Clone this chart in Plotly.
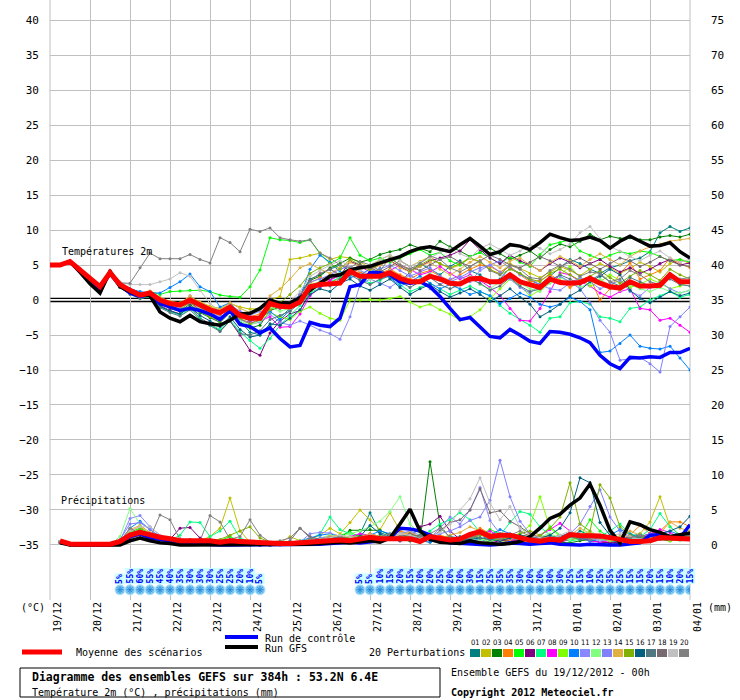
import plotly.graph_objects as go

MONO = "DejaVu Sans Mono"

# 6-hourly steps over 384h, expressed in days since 19/12 00h
hours = list(range(0, 385, 6))
days = [h / 24 for h in hours]
day_labels = ["19/12", "20/12", "21/12", "22/12", "23/12", "24/12", "25/12", "26/12",
              "27/12", "28/12", "29/12", "30/12", "31/12", "01/01", "02/01", "03/01", "04/01"]

# ---- 2m temperature (°C) ----
mean_t2m = [5.0, 5.0, 5.5, 4.3, 2.9, 1.9, 3.9, 2.2, 1.4, 0.7, 1.0,
            0.0, -0.5, -0.7, 0.0, -0.7, -1.4, -1.8, -1.0, -2.2, -2.6,
            -2.6, -0.5, -0.9, -1.0, -0.3, 1.9, 2.2, 2.3, 2.4, 4.1,
            3.4, 3.4, 3.4, 3.9, 3.1, 2.6, 2.6, 3.4, 3.0, 2.4,
            2.3, 3.0, 3.1, 2.6, 2.6, 3.6, 2.6, 2.2, 1.8, 3.0,
            2.5, 2.4, 2.5, 3.1, 2.4, 1.9, 1.7, 2.6, 2.0, 2.0, 2.1, 3.6, 2.6, 2.6]
ctrl_t2m = [5.0, 5.0, 5.5, 4.0, 2.5, 1.5, 3.8, 2.0, 1.0, 0.5, 0.8,
            -0.5, -1.0, -1.5, -1.2, -1.5, -2.0, -2.8, -1.5, -3.5, -3.8,
            -4.7, -4.0, -5.5, -6.7, -6.5, -3.2, -3.6, -3.8, -2.6, 1.9,
            2.2, 3.9, 3.9, 3.6, 2.6, 2.4, 2.6, 1.9, 0.5, -1.2,
            -2.8, -2.5, -3.8, -5.2, -5.4, -4.2, -5.0, -5.9, -6.2, -4.5,
            -4.6, -4.9, -5.4, -6.1, -7.9, -9.1, -9.8, -8.2, -8.3, -8.1, -8.2, -7.5, -7.5, -6.9]
gfs_t2m = [5.0, 5.0, 5.5, 4.0, 2.3, 1.0, 4.1, 1.9, 1.2, 0.7, 0.6,
           -1.7, -2.6, -3.1, -2.2, -3.1, -3.4, -3.6, -2.9, -2.0, -1.9,
           -1.2, 0.0, -0.5, -0.4, 0.3, 1.4, 2.4, 3.4, 3.6, 4.3,
           4.6, 4.8, 5.3, 5.8, 6.2, 6.9, 7.4, 7.6, 7.3, 6.9,
           7.9, 8.8, 7.7, 6.5, 6.9, 7.9, 7.7, 7.2, 8.2, 9.4,
           8.9, 8.5, 8.6, 9.0, 8.5, 7.4, 8.4, 9.1, 8.4, 7.7, 7.8, 8.2, 6.9, 6.0]

p01_t2m = [5.0, 5.0, 5.6, 4.2, 2.7, 1.8, 4.0, 2.0, 1.2, 0.6, 0.8,
           -0.5, -1.0, -1.4, -0.2, -1.5, -2.2, -2.8, -1.4, -3.0, -4.6,
           -5.0, -3.8, -2.5, -1.2, 0.8, 3.0, 3.6, 4.4, 5.0, 4.2,
           3.0, 3.8, 4.5, 3.2, 2.5, 4.0, 5.2, 4.4, 3.6, 4.8,
           5.6, 4.2, 3.6, 2.4, 3.0, 4.6, 3.8, 2.8, 2.2, 3.4,
           4.6, 5.8, 5.2, 4.4, 3.8, 4.6, 5.0, 5.6, 6.0, 6.9, 9.6, 10.5, 9.8, 10.3]
p02_t2m = [5.0, 5.0, 5.5, 4.5, 3.0, 2.0, 4.0, 2.3, 1.5, 0.9, 1.2,
           0.2, -0.2, -0.4, 0.4, -0.3, -0.9, -1.2, -0.5, -1.0, -1.3,
           -1.2, 0.0, 0.5, 5.8, 6.0, 6.4, 6.7, 5.8, 6.2, 6.0,
           5.4, 4.6, 5.8, 6.4, 5.6, 4.8, 5.5, 6.2, 5.2, 4.5,
           5.0, 6.0, 5.5, 4.3, 3.8, 5.2, 4.5, 3.8, 3.2, 4.0,
           4.8, 4.2, 3.5, 4.4, 5.2, 4.6, 3.8, 4.5, 5.4, 4.8, 4.0, 5.2, 5.8, 5.2]
p03_t2m = [5.0, 5.0, 5.5, 4.2, 2.8, 1.7, 3.8, 2.0, 1.1, 0.5, 0.9,
           -0.4, -1.2, -1.6, -0.6, -1.8, -2.5, -3.2, -1.8, -3.2, -4.0,
           -3.6, -1.5, -1.0, -0.8, 0.6, 2.8, 3.4, 4.6, 5.2, 6.0,
           5.4, 5.8, 6.5, 6.9, 7.2, 7.9, 7.4, 6.9, 8.4, 7.6,
           7.0, 6.2, 6.8, 7.4, 6.6, 5.8, 6.4, 7.0, 6.0, 7.2,
           8.0, 7.6, 8.4, 9.4, 8.6, 9.1, 8.8, 8.9, 8.6, 8.6, 9.0, 9.2, 9.0, 9.4]
p04_t2m = [5.0, 5.0, 5.4, 4.4, 2.8, 1.6, 3.6, 2.4, 1.0, 0.4, 1.3,
           0.2, -0.8, -0.6, 0.2, -1.0, -1.8, -2.2, -1.0, -2.0, -2.4,
           -2.0, -0.2, -1.0, -1.2, 0.2, 2.4, 3.2, 2.6, 3.0, 4.6,
           4.0, 3.4, 3.8, 4.4, 3.6, 3.0, 3.8, 4.2, 3.4, 2.8,
           3.6, 4.4, 5.0, 4.8, 4.0, 4.8, 3.6, 2.6, 2.8, 3.6,
           2.8, 1.8, 2.6, 3.2, 0.0, 1.6, 3.8, 5.3, 3.0, 3.6, 4.2, 6.0, 5.2, 4.6]
p05_t2m = [5.0, 5.0, 5.5, 4.3, 2.9, 1.9, 3.9, 2.2, 1.4, 1.0, 1.2,
           0.8, 1.2, 1.3, 1.4, 1.4, 1.2, 0.7, 0.5, 0.4, 1.9,
           4.3, 8.9, 8.6, 8.5, 8.2, 8.6, 6.6, 5.2, 6.0, 8.9,
           6.4, 5.6, 6.0, 5.4, 6.0, 6.6, 7.2, 6.4, 6.8, 5.6,
           5.0, 6.2, 6.8, 6.0, 5.2, 6.2, 5.4, 4.8, 6.5, 7.9,
           8.2, 8.6, 7.0, 6.4, 5.8, 6.4, 6.9, 6.6, 7.0, 6.8, 6.2, 5.6, 5.8, 5.4]
p06_t2m = [5.0, 5.0, 5.5, 4.3, 2.9, 1.8, 3.7, 2.0, 1.0, 0.3, 0.6,
           -0.8, -1.5, -2.0, -1.0, -2.6, -3.4, -4.4, -3.0, -5.0, -7.2,
           -7.9, -4.7, -3.0, -2.0, -1.5, 1.2, 2.6, 3.0, 3.4, 5.5,
           5.0, 4.5, 5.0, 5.6, 4.8, 4.0, 4.8, 5.6, 6.0, 6.4,
           7.0, 8.6, 7.2, 6.0, 5.2, 6.4, 5.6, 5.0, 4.2, 5.2,
           6.0, 5.4, 4.6, 5.2, 5.8, 4.8, 4.0, 4.6, 3.8, 4.4, 5.2, 5.8, 5.0, 5.3]
p07_t2m = [5.0, 5.0, 5.5, 4.1, 2.6, 1.5, 3.6, 1.8, 0.9, 0.2, 0.5,
           -1.0, -1.6, -2.2, -1.2, -2.6, -3.6, -4.2, -2.8, -4.6, -5.8,
           -6.9, -5.5, -3.6, -2.2, -0.8, 1.0, 1.8, 2.6, 3.2, 4.0,
           3.2, 2.4, 2.8, 3.6, 2.2, 1.2, 1.8, 2.4, 1.6, 0.8,
           1.4, 2.0, 1.2, 0.6, -0.8, -1.9, -2.8, -3.6, -4.6, -2.6,
           -2.4, -0.4, -0.2, -0.6, -2.4, -2.6, -3.1, -1.2, -1.0, 0.0, 0.6, 1.2, 0.4, 0.8]
p08_t2m = [5.0, 5.0, 5.5, 4.3, 2.9, 1.9, 3.8, 2.1, 1.2, 0.5, 0.8,
           -0.3, -1.0, -1.2, -0.4, -1.4, -2.0, -2.6, -1.6, -2.8, -3.2,
           -3.0, -2.4, -3.9, -3.8, -2.0, 0.6, 1.8, 2.8, 3.6, 4.4,
           4.8, 4.0, 3.6, 4.2, 5.0, 4.4, 3.6, 4.0, 4.8, 3.8,
           3.0, 3.6, 2.8, 1.8, 0.6, -1.2, -2.9, -3.0, -1.2, 1.2,
           3.9, 3.6, 2.6, 2.0, 1.0, 0.4, 1.2, 1.6, -1.2, -1.4, -2.9, -2.6, -3.6, -4.6]
p09_t2m = [5.0, 5.0, 5.5, 4.4, 3.1, 2.1, 4.0, 2.4, 1.6, 0.8, 1.1,
           0.2, -0.4, -0.6, 0.2, -0.8, -1.2, -1.6, -0.8, -2.0, -2.6,
           -3.0, -1.8, -2.4, -2.8, -1.6, -1.0, -1.9, -2.6, -2.9, 0.0,
           0.0, 0.1, 0.0, 0.2, 0.5, -0.3, -1.0, -0.6, -1.4, -2.0,
           -2.9, -2.4, -1.4, 0.2, 1.6, 3.0, 2.0, 0.6, 1.4, 2.6,
           3.6, 4.8, 3.2, 2.0, 2.6, 3.6, 2.8, 1.8, 2.2, 3.0, 2.4, 1.6, 2.0, 2.6]
p10_t2m = [5.0, 5.0, 5.5, 4.4, 3.0, 2.2, 4.2, 2.5, 1.6, 1.2, 1.0,
           1.0, 1.8, 2.6, 3.7, 1.9, 1.2, -1.0, -0.4, -2.0, -3.0,
           -2.6, -1.6, -2.8, -1.5, 0.4, 4.4, 6.4, 5.4, 4.0, 3.2,
           3.6, 4.4, 3.8, 3.2, 2.0, 2.6, 3.4, 2.4, 1.6, 2.2,
           1.6, 0.8, 1.2, 0.6, -0.5, 0.2, 1.0, 0.4, -0.6, -1.0,
           -0.6, 0.4, -0.2, -1.4, -7.5, -7.3, -6.2, -5.0, -6.6, -6.9, -7.0, -6.6, -8.3, -10.0]
p11_t2m = [5.0, 5.0, 5.5, 4.3, 2.8, 1.8, 3.8, 2.2, 1.3, 0.6, 0.9,
           -0.2, -0.7, -1.0, -0.2, -1.2, -1.8, -2.4, -1.6, -2.8, -3.4,
           -3.2, -2.0, -3.2, -3.6, -3.0, -3.6, -4.3, -4.8, -5.6, -2.4,
           2.2, 3.0, 2.4, 1.8, 2.8, 3.6, 2.6, 1.6, 2.2, 3.0,
           3.4, 2.6, 4.2, 5.0, 4.0, 3.0, 1.8, 1.0, 2.2, 1.6,
           1.4, 2.4, 3.2, 2.6, 1.6, 2.2, 2.8, 1.2, 0.6, 1.8, 2.6, 1.6, 1.0, 1.4]
p12_t2m = [5.0, 5.0, 5.5, 4.2, 2.8, 1.9, 3.9, 2.1, 1.3, 0.6, 1.0,
           -0.4, -0.8, -1.3, -0.2, -1.2, -2.0, -2.6, -1.6, -3.0, -3.6,
           -3.0, -1.0, -1.6, -1.2, 0.2, 2.2, 2.6, 3.2, 3.8, 4.6,
           3.6, 3.0, 3.4, 4.2, 3.2, 2.4, 3.0, 3.8, 2.8, 2.2,
           2.6, 3.4, 2.2, 1.6, 2.6, 3.4, 2.4, 1.6, 1.2, 2.4,
           3.2, 2.6, 1.8, 2.4, 3.0, 2.0, 1.4, 2.2, 1.6, 1.2, 1.8, 1.2, 1.0, 1.4]
p13_t2m = [5.0, 5.0, 5.6, 4.5, 3.0, 2.0, 4.1, 2.3, 1.4, 0.9, 1.1,
           0.0, -0.4, -0.8, 0.6, -0.6, -1.2, -1.6, -0.7, -1.6, -2.2,
           -1.6, 0.2, -0.6, -0.4, 0.8, 2.6, 3.0, 3.6, 4.4, 4.8,
           4.2, 3.6, 4.4, 5.0, 4.2, 3.4, 4.0, 4.6, 3.4, 2.6,
           3.2, 4.0, 4.6, 5.0, 5.6, 4.6, 3.6, 3.0, 2.2, 3.0,
           3.4, 2.6, 1.6, -0.4, -2.9, -4.6, -8.6, -8.4, -8.2, -9.1, -10.3, -3.8, -2.4, -1.0]
p14_t2m = [5.0, 5.0, 5.4, 4.3, 2.9, 2.0, 3.9, 2.3, 1.5, 0.8, 1.2,
           0.4, -0.2, -0.5, 0.6, -0.4, -1.0, -1.4, -0.4, -1.2, -1.8,
           -1.4, 0.6, 1.6, 3.0, 4.6, 5.2, 4.4, 3.8, 4.6, 5.4,
           4.8, 4.2, 5.0, 5.6, 4.6, 4.0, 4.8, 5.4, 4.4, 3.6,
           4.4, 5.4, 6.2, 5.4, 4.6, 5.6, 6.0, 5.0, 4.2, 5.4,
           6.2, 5.6, 4.8, 5.8, 6.6, 5.8, 5.0, 6.2, 7.0, 7.6, 8.0, 8.4, 8.6, 8.8]
p15_t2m = [5.0, 5.0, 5.5, 4.4, 2.9, 1.7, 3.8, 2.1, 1.2, 0.6, 0.9,
           -0.2, -0.9, -1.4, -0.3, -1.6, -2.4, -3.0, -1.6, -2.6, -3.4,
           -2.8, -1.4, -0.4, 0.8, 2.0, 3.8, 4.6, 5.2, 4.4, 5.8,
           5.0, 4.4, 5.2, 6.0, 5.0, 4.2, 5.0, 5.8, 5.2, 4.6,
           5.2, 6.0, 5.4, 4.4, 3.6, 4.4, 3.8, 3.0, 2.6, 3.8,
           4.4, 3.6, 2.8, 3.4, 4.2, 3.2, 2.4, 3.4, 4.2, 3.6, 2.8, 4.4, 3.6, 3.0]
p16_t2m = [5.0, 5.0, 5.5, 4.2, 2.7, 1.6, 3.7, 1.9, 1.0, 0.3, 0.7,
           -0.9, -1.6, -2.0, -1.0, -2.2, -3.0, -3.8, -2.4, -4.2, -5.3,
           -5.0, -3.4, -3.6, -2.6, -1.4, 0.8, 1.6, 1.2, 2.4, 3.0,
           2.0, 1.4, 2.2, 3.0, 1.8, 0.8, 1.6, 2.2, 1.2, 0.4,
           1.0, 1.6, 0.8, -0.2, 0.6, 1.6, 0.4, -0.6, -2.4, -1.6,
           -0.6, 0.6, 1.4, 2.6, 3.4, 4.4, 3.6, 1.4, 0.2, -0.4, 0.4, 1.2, 0.6, 1.0]
p17_t2m = [5.0, 5.0, 5.5, 4.1, 2.6, 1.4, 3.9, 1.8, 0.8, 0.2, 0.6,
           -1.1, -1.8, -2.3, -1.4, -2.8, -3.6, -4.5, -3.0, -4.8, -5.0,
           -4.4, -2.8, -2.2, -1.6, -0.4, 1.6, 2.4, 2.0, 3.0, 3.6,
           2.8, 2.2, 3.0, 3.4, 2.6, 1.8, 2.6, 3.2, 2.2, 1.6,
           2.2, 3.0, 2.4, 1.4, 2.0, 3.2, 2.0, 1.2, 1.6, 2.8,
           3.6, 3.0, 2.2, 2.8, 3.6, 2.6, 2.0, 3.2, 2.6, 2.0, 2.4, 3.0, 2.2, 2.0]
p18_t2m = [5.0, 5.0, 5.5, 4.3, 2.9, 1.8, 3.9, 2.2, 1.4, 0.7, 1.0,
           0.0, -0.6, -0.8, 0.0, -0.8, -1.6, -2.0, -1.2, -2.4, -3.0,
           -2.6, -0.8, -1.2, -0.6, 0.6, 2.8, 3.8, 4.4, 3.6, 4.2,
           5.0, 4.6, 4.0, 4.8, 5.6, 4.8, 4.2, 5.0, 5.8, 6.2,
           5.4, 4.8, 5.6, 6.4, 5.8, 5.0, 4.6, 5.4, 6.2, 5.6,
           4.8, 5.4, 6.0, 5.2, 4.4, 5.2, 6.0, 5.6, 4.8, 5.4, 6.2, 5.6, 5.0, 4.8]
p19_t2m = [5.0, 5.0, 5.5, 4.4, 3.1, 2.3, 4.3, 2.6, 2.2, 2.2, 2.2,
           2.6, 3.0, 3.9, 3.4, 1.4, -0.5, -1.6, -0.8, -2.0, -2.6,
           -2.2, -0.4, -0.8, -0.2, 1.2, 3.4, 4.2, 5.0, 5.6, 4.8,
           4.2, 5.0, 5.8, 6.4, 5.6, 4.8, 5.4, 6.0, 6.8, 7.4,
           6.6, 6.0, 7.4, 8.0, 7.2, 6.4, 7.0, 7.9, 7.4, 6.6,
           7.2, 8.0, 9.6, 10.5, 8.8, 7.6, 7.0, 6.2, 5.6, 6.4, 7.0, 6.0, 5.4, 5.8]
p20_t2m = [5.0, 5.0, 5.5, 4.4, 3.0, 2.2, 4.2, 2.4, 2.4, 4.6, 6.7,
           5.9, 5.9, 5.9, 6.5, 5.8, 5.3, 8.9, 8.2, 6.9, 10.1,
           9.8, 10.3, 8.9, 8.6, 8.4, 8.6, 6.7, 6.0, 5.0, 4.6,
           5.5, 5.0, 4.2, 6.0, 5.0, 4.4, 5.2, 6.3, 5.8, 4.6,
           4.0, 4.8, 5.6, 4.2, 3.6, 5.0, 4.4, 3.2, 3.0, 4.2,
           5.0, 4.4, 3.4, 4.0, 3.8, 2.6, 3.0, 4.2, 3.6, 2.6, 2.2, 3.8, 3.0, 3.2]

# ---- 6h precipitation (mm), from +6h to +384h ----
mean_rr = [0.6, 0.15, 0.1, 0.1, 0.1, 0.1, 0.5, 1.4,
           1.8, 1.4, 1.1, 0.9, 0.6, 0.6, 0.6, 0.6,
           0.4, 0.6, 0.5, 0.4, 0.25, 0.15, 0.2, 0.2,
           0.3, 0.35, 0.5, 0.7, 0.7, 0.6, 0.85, 1.1,
           0.9, 0.85, 0.85, 0.9, 0.5, 1.2, 0.95, 0.7,
           0.85, 1.5, 1.9, 1.2, 1.4, 1.4, 1.05, 0.7,
           0.55, 0.8, 0.7, 1.5, 1.35, 1.3, 1.3, 1.05,
           0.7, 0.5, 0.5, 0.6, 1.05, 0.95, 0.8, 0.85]
ctrl_rr = [0.4, 0.1, 0.0, 0.0, 0.0, 0.0, 0.3, 1.2,
           1.6, 1.0, 0.8, 0.5, 0.3, 0.2, 0.1, 0.1,
           0.0, 0.0, 0.0, 0.0, 0.0, 0.0, 0.0, 0.0,
           0.0, 0.0, 0.1, 0.2, 0.3, 0.4, 0.3, 0.4,
           0.6, 1.0, 2.4, 2.3, 2.0, 1.4, 0.6, 0.3,
           0.2, 0.1, 0.0, 0.0, 0.1, 0.3, 0.2, 0.1,
           0.2, 0.3, 0.1, 0.0, 0.0, 0.1, 0.0, 0.0,
           0.0, 0.1, 0.3, 1.4, 1.5, 1.2, 1.0, 2.9]
gfs_rr = [0.3, 0.0, 0.0, 0.0, 0.0, 0.0, 0.0, 0.6,
          1.0, 0.6, 0.3, 0.2, 0.0, 0.0, 0.0, 0.0,
          0.0, 0.0, 0.0, 0.0, 0.0, 0.0, 0.0, 0.0,
          0.0, 0.1, 0.2, 0.3, 0.4, 0.3, 0.5, 0.6,
          0.4, 1.0, 3.0, 5.1, 2.0, 0.8, 0.4, 0.3,
          0.2, 0.6, 0.3, 0.2, 0.1, 0.2, 0.5, 1.2,
          2.4, 3.8, 4.4, 5.7, 6.7, 8.7, 5.7, 2.1,
          0.3, 3.3, 2.9, 2.2, 1.8, 1.2, 1.4, 1.7]

p01_rr = [0.5, 0.1, 0.0, 0.0, 0.0, 0.0, 0.4, 1.6, 2.2, 1.4, 1.0, 0.6, 0.4, 0.8, 0.5, 0.3,
          0.2, 0.5, 0.3, 0.2, 0.1, 0.0, 0.1, 0.2, 0.3, 0.4, 0.6, 1.0, 1.2, 0.8, 1.6, 4.6,
          1.8, 1.2, 0.6, 0.8, 1.4, 0.6, 0.4, 0.8, 1.2, 0.6, 0.4, 1.0, 1.6, 1.0, 0.6, 0.4,
          0.8, 1.4, 0.6, 1.0, 2.0, 1.4, 0.8, 0.6, 0.4, 1.2, 1.6, 0.8, 1.2, 0.8, 1.0, 1.4]
p02_rr = [0.4, 0.1, 0.0, 0.0, 0.0, 0.0, 0.2, 1.2, 1.8, 1.2, 0.8, 0.4, 0.2, 0.4, 0.6, 1.2,
          2.4, 6.7, 2.0, 0.4, 0.2, 0.1, 0.3, 1.2, 0.6, 0.8, 1.4, 2.4, 1.6, 3.2, 5.0, 3.6,
          2.2, 4.6, 2.0, 1.0, 0.6, 0.4, 0.8, 1.2, 0.6, 0.4, 0.8, 1.2, 0.6, 0.4, 0.2, 0.6,
          0.8, 0.4, 0.6, 1.0, 0.8, 0.6, 0.4, 0.8, 1.2, 0.8, 1.6, 3.3, 6.9, 2.6, 1.4, 1.0]
p03_rr = [0.5, 0.0, 0.0, 0.0, 0.0, 0.0, 0.3, 1.0, 1.4, 1.0, 0.6, 0.4, 0.2, 0.3, 0.2, 0.1,
          0.1, 0.2, 0.1, 0.0, 0.0, 0.0, 0.1, 0.3, 0.4, 0.6, 0.4, 0.8, 1.0, 2.1, 2.1, 2.2,
          2.1, 1.4, 0.8, 0.6, 0.5, 11.9, 2.8, 1.0, 0.6, 0.4, 0.3, 0.5, 0.8, 0.6, 0.3, 0.2,
          0.4, 0.6, 0.4, 0.3, 0.6, 0.8, 0.4, 0.3, 0.2, 0.4, 0.6, 1.2, 0.8, 0.6, 1.0, 0.8]
p04_rr = [0.4, 0.1, 0.0, 0.0, 0.0, 0.0, 0.6, 2.0, 2.6, 1.6, 1.0, 0.6, 0.4, 0.6, 0.4, 0.2,
          0.4, 0.6, 0.3, 0.1, 0.0, 0.0, 0.2, 0.4, 0.6, 0.5, 0.8, 1.2, 0.8, 1.0, 1.4, 1.2,
          0.8, 1.2, 2.0, 1.6, 1.0, 0.8, 1.4, 1.0, 0.6, 1.2, 2.4, 1.6, 0.8, 0.6, 0.4, 0.6,
          1.0, 1.4, 0.8, 0.6, 1.2, 1.8, 1.0, 0.6, 0.8, 1.4, 2.8, 1.6, 2.0, 3.3, 3.3, 2.6]
p05_rr = [0.5, 0.0, 0.0, 0.0, 0.0, 0.0, 0.4, 1.8, 2.4, 1.6, 0.8, 0.5, 0.3, 0.6, 0.4, 0.3,
          0.6, 1.2, 0.5, 0.2, 0.1, 0.0, 0.2, 0.3, 0.5, 0.8, 0.6, 1.0, 1.4, 1.8, 1.2, 1.0,
          0.6, 0.8, 1.2, 1.6, 2.2, 1.4, 0.8, 0.6, 0.6, 0.8, 1.4, 2.2, 1.6, 1.0, 0.6, 0.8,
          1.2, 2.6, 1.4, 0.8, 1.2, 3.6, 2.0, 1.0, 0.6, 0.8, 1.2, 0.8, 1.0, 0.6, 0.8, 1.2]
p06_rr = [0.4, 0.1, 0.0, 0.0, 0.0, 0.0, 0.3, 1.2, 1.6, 1.2, 0.6, 0.8, 2.4, 2.5, 1.0, 0.4,
          0.2, 0.3, 0.2, 0.1, 0.0, 0.0, 0.1, 0.2, 0.4, 0.3, 0.6, 0.8, 1.0, 0.6, 1.2, 1.6,
          1.2, 0.8, 0.6, 1.0, 2.6, 3.0, 4.1, 2.0, 0.8, 0.6, 0.4, 0.3, 0.6, 0.8, 0.4, 0.2,
          0.3, 0.6, 0.4, 0.8, 1.2, 0.6, 0.4, 0.3, 0.4, 0.8, 1.2, 1.6, 1.0, 0.8, 1.4, 1.6]
p07_rr = [0.4, 0.1, 0.0, 0.0, 0.0, 0.0, 0.4, 1.4, 1.8, 1.2, 0.8, 0.6, 1.4, 3.3, 3.2, 1.2,
          2.0, 3.4, 1.0, 0.4, 0.2, 0.0, 0.1, 0.3, 0.4, 0.8, 1.6, 4.0, 2.2, 1.6, 1.0, 0.8,
          0.6, 0.8, 1.0, 1.4, 1.2, 2.0, 3.0, 3.6, 4.6, 3.6, 1.8, 1.2, 1.4, 3.2, 4.8, 4.4,
          2.6, 1.4, 1.0, 0.6, 0.8, 1.4, 1.2, 2.0, 3.0, 1.6, 1.2, 2.2, 4.5, 2.6, 1.4, 1.0]
p08_rr = [0.4, 0.1, 0.0, 0.0, 0.0, 0.0, 0.3, 1.0, 1.4, 1.0, 0.6, 0.4, 0.3, 0.5, 0.4, 0.3,
          0.2, 0.4, 0.2, 0.1, 0.0, 0.0, 0.0, 0.1, 0.2, 0.3, 0.4, 0.6, 0.8, 1.2, 1.6, 1.4,
          1.0, 0.8, 0.6, 1.2, 1.0, 0.8, 0.6, 0.4, 0.6, 1.0, 1.4, 2.0, 1.2, 0.8, 0.6, 1.0,
          1.4, 2.2, 3.1, 2.0, 1.0, 0.6, 0.4, 0.6, 0.8, 1.2, 0.8, 1.6, 2.2, 1.8, 1.0, 0.8]
p09_rr = [0.5, 0.1, 0.0, 0.0, 0.0, 0.0, 0.4, 1.4, 2.0, 1.4, 0.8, 0.6, 0.4, 0.5, 0.3, 0.2,
          0.3, 0.6, 0.4, 0.2, 0.1, 0.0, 0.1, 0.2, 0.3, 0.5, 0.8, 1.0, 1.2, 0.8, 0.6, 1.0,
          1.4, 1.0, 0.8, 0.6, 1.2, 1.6, 1.0, 0.8, 0.6, 0.8, 1.0, 0.6, 0.8, 1.2, 1.6, 2.8,
          6.9, 2.4, 1.2, 0.8, 1.0, 1.4, 0.8, 0.6, 0.8, 1.0, 0.6, 0.8, 1.2, 0.6, 0.8, 1.0]
p10_rr = [0.5, 0.1, 0.0, 0.0, 0.0, 0.0, 0.5, 2.4, 3.4, 2.2, 1.2, 0.8, 0.6, 0.4, 0.6, 0.8,
          0.4, 0.2, 0.3, 0.1, 0.0, 0.0, 0.1, 0.2, 0.6, 1.0, 1.4, 1.6, 1.2, 0.8, 0.6, 1.4,
          2.0, 1.6, 1.0, 0.8, 0.6, 0.4, 0.8, 1.2, 1.0, 0.6, 0.8, 1.4, 2.2, 1.6, 0.8, 0.6,
          0.4, 0.6, 1.2, 1.8, 1.0, 0.6, 0.8, 1.4, 2.2, 1.6, 1.0, 1.2, 1.6, 2.0, 1.4, 1.2]
p11_rr = [0.4, 0.1, 0.0, 0.0, 0.0, 0.0, 0.6, 3.8, 4.2, 2.6, 1.4, 0.8, 0.6, 0.4, 0.3, 0.2,
          0.2, 0.3, 0.2, 0.1, 0.0, 0.0, 0.1, 0.2, 0.4, 1.6, 1.8, 1.7, 1.2, 0.8, 0.6, 0.8,
          1.0, 1.2, 1.6, 2.0, 1.4, 1.0, 2.4, 4.0, 3.0, 5.0, 8.2, 3.5, 1.6, 1.0, 0.8, 0.6,
          0.8, 1.2, 0.6, 0.8, 1.4, 1.0, 0.6, 0.8, 1.2, 0.8, 1.0, 1.6, 1.2, 0.8, 1.0, 1.2]
p12_rr = [0.5, 0.1, 0.0, 0.0, 0.0, 0.0, 1.2, 5.2, 3.0, 1.4, 0.8, 0.6, 0.4, 0.6, 0.4, 0.3,
          0.4, 0.6, 0.3, 0.1, 0.0, 0.0, 0.2, 0.4, 0.6, 0.8, 1.0, 1.4, 1.2, 1.6, 2.0, 2.6,
          3.4, 4.8, 6.9, 3.0, 1.6, 1.0, 0.8, 0.6, 0.8, 1.2, 0.8, 0.6, 1.0, 1.4, 1.0, 0.8,
          1.2, 1.6, 1.0, 0.8, 1.4, 2.0, 1.2, 0.8, 0.6, 0.8, 1.0, 1.4, 1.0, 0.8, 0.6, 1.0]
p13_rr = [0.4, 0.1, 0.0, 0.0, 0.0, 0.0, 0.8, 3.0, 3.2, 2.2, 1.2, 0.6, 0.4, 0.3, 0.4, 0.3,
          0.2, 0.4, 0.2, 0.1, 0.0, 0.0, 0.1, 0.3, 0.5, 0.8, 1.0, 1.2, 1.0, 0.8, 1.0, 1.2,
          0.8, 1.0, 1.4, 1.2, 0.8, 1.0, 1.6, 2.0, 2.6, 3.5, 4.0, 6.4, 12.1, 6.9, 3.4, 1.6,
          1.0, 0.8, 1.2, 1.6, 3.0, 5.5, 7.9, 4.0, 2.0, 1.2, 0.8, 1.0, 1.4, 1.0, 0.8, 1.2]
p14_rr = [0.4, 0.1, 0.0, 0.0, 0.0, 0.0, 0.5, 2.2, 2.8, 1.8, 1.0, 0.6, 0.4, 0.4, 0.3, 0.3,
          0.4, 0.6, 0.4, 0.2, 0.1, 0.0, 0.1, 0.3, 0.4, 0.6, 0.8, 1.2, 1.4, 1.0, 1.2, 1.6,
          1.2, 1.0, 1.4, 1.8, 1.2, 0.8, 1.0, 1.4, 1.8, 2.6, 2.0, 1.4, 1.0, 0.8, 1.2, 1.6,
          1.2, 1.0, 0.8, 1.4, 2.4, 1.6, 1.0, 0.8, 1.2, 2.0, 1.4, 1.0, 1.6, 3.3, 2.4, 2.0]
p15_rr = [0.4, 0.1, 0.0, 0.0, 0.0, 0.0, 0.4, 1.6, 2.2, 1.4, 0.8, 0.6, 0.4, 0.5, 0.4, 0.6,
          0.8, 1.4, 2.0, 2.6, 1.0, 0.4, 0.2, 0.3, 0.4, 0.6, 0.8, 1.0, 0.8, 1.2, 1.0, 0.8,
          0.6, 0.8, 1.0, 1.4, 1.2, 0.8, 1.0, 1.2, 0.8, 1.0, 1.4, 1.0, 0.8, 1.2, 1.6, 2.0,
          1.4, 2.4, 4.0, 8.9, 3.0, 2.0, 8.6, 6.7, 2.6, 1.4, 1.0, 1.2, 0.8, 1.0, 1.4, 1.2]
p16_rr = [0.5, 0.1, 0.0, 0.0, 0.0, 0.0, 0.3, 1.2, 1.6, 1.2, 0.8, 0.4, 0.3, 0.4, 0.3, 0.2,
          0.2, 0.4, 0.3, 0.1, 0.0, 0.0, 0.1, 0.2, 0.3, 0.4, 0.6, 0.8, 1.0, 0.8, 1.2, 2.8,
          1.6, 1.0, 0.8, 0.6, 1.0, 1.4, 1.0, 0.8, 0.6, 0.8, 1.0, 0.8, 0.6, 1.0, 1.4, 1.2,
          1.0, 1.4, 2.4, 4.6, 9.6, 8.9, 3.2, 1.4, 0.8, 1.0, 1.4, 1.0, 1.6, 2.0, 2.6, 4.1]
p17_rr = [0.4, 0.1, 0.0, 0.0, 0.0, 0.0, 0.4, 1.4, 1.8, 1.2, 0.6, 0.4, 0.3, 0.4, 0.3, 0.2,
          0.2, 0.3, 0.2, 0.1, 0.0, 0.0, 0.1, 0.2, 0.3, 0.5, 0.8, 1.0, 1.2, 0.8, 0.6, 1.0,
          1.2, 0.8, 0.6, 1.0, 1.4, 1.0, 0.8, 0.6, 0.8, 1.2, 1.0, 0.8, 1.4, 1.2, 0.8, 0.6,
          0.8, 1.0, 1.4, 1.2, 0.8, 1.0, 1.4, 1.0, 0.8, 1.2, 1.0, 0.8, 1.2, 1.0, 1.4, 1.6]
p18_rr = [0.4, 0.1, 0.0, 0.0, 0.0, 0.0, 0.3, 1.0, 1.4, 1.0, 0.6, 0.4, 0.3, 0.4, 0.3, 0.2,
          0.2, 0.4, 0.3, 0.1, 0.0, 0.0, 0.2, 0.6, 2.4, 1.2, 0.8, 1.0, 0.8, 0.6, 1.0, 1.2,
          0.8, 1.0, 1.2, 1.6, 1.2, 1.0, 2.0, 3.2, 3.6, 5.0, 8.0, 4.6, 4.9, 3.4, 2.6, 1.6,
          1.0, 0.8, 1.0, 1.4, 1.0, 0.8, 1.2, 1.0, 0.8, 1.0, 1.4, 1.0, 0.8, 1.2, 1.0, 1.4]
p19_rr = [0.5, 0.1, 0.0, 0.0, 0.0, 0.0, 0.6, 2.0, 2.6, 2.6, 1.4, 0.8, 1.0, 0.6, 0.4, 0.3,
          0.3, 0.4, 0.2, 0.1, 0.0, 0.0, 0.1, 0.3, 0.4, 0.6, 0.8, 1.0, 1.4, 1.2, 1.0, 1.4,
          1.0, 1.2, 1.6, 1.4, 1.0, 1.2, 1.8, 3.0, 5.0, 6.6, 9.6, 6.0, 3.6, 5.5, 2.4, 1.4,
          1.0, 0.8, 1.4, 2.0, 1.4, 1.0, 0.8, 1.2, 1.6, 1.2, 0.8, 1.0, 1.4, 1.2, 1.0, 0.8]
p20_rr = [0.4, 0.1, 0.0, 0.0, 0.0, 0.0, 0.5, 2.4, 1.6, 1.0, 4.3, 3.6, 0.8, 0.4, 0.6, 4.2,
          3.3, 0.8, 1.2, 3.6, 1.4, 0.4, 0.6, 1.0, 2.4, 1.0, 0.6, 0.8, 1.0, 0.8, 0.6, 1.0,
          1.2, 1.6, 1.0, 0.8, 1.2, 1.6, 2.4, 1.2, 0.8, 1.0, 1.6, 1.2, 0.8, 1.4, 2.0, 1.2,
          0.8, 0.6, 1.0, 1.4, 1.2, 0.8, 1.0, 1.2, 0.8, 1.0, 1.4, 1.2, 0.8, 1.0, 1.2, 1.0]

# ---- snow probability (%) ----
snow_hours_a = list(range(42, 127, 6))
snow_pct_a = [5, 55, 60, 55, 45, 40, 35, 30, 30, 30, 25, 25, 20, 10, 5]
snow_hours_b = list(range(186, 385, 6))
snow_pct_b = [5, 5, 10, 15, 20, 15, 20, 20, 25, 20, 20, 30, 15, 25, 35, 35, 30, 20, 20,
              30, 30, 25, 15, 10, 25, 35, 25, 15, 15, 20, 15, 10, 20, 15]

pert_colors = ["#008080", "#c0c000", "#008000", "#ff8000", "#00ff00", "#800080", "#00ff80",
               "#ff00ff", "#80ff00", "#0080ff", "#8888ff", "#80ff80", "#8080ff", "#e0b040",
               "#80b000", "#006080", "#507880", "#786870", "#c0c0c0", "#808080"]

pert_t2m = [p01_t2m, p02_t2m, p03_t2m, p04_t2m, p05_t2m, p06_t2m, p07_t2m, p08_t2m, p09_t2m, p10_t2m,
            p11_t2m, p12_t2m, p13_t2m, p14_t2m, p15_t2m, p16_t2m, p17_t2m, p18_t2m, p19_t2m, p20_t2m]
pert_rr = [p01_rr, p02_rr, p03_rr, p04_rr, p05_rr, p06_rr, p07_rr, p08_rr, p09_rr, p10_rr,
           p11_rr, p12_rr, p13_rr, p14_rr, p15_rr, p16_rr, p17_rr, p18_rr, p19_rr, p20_rr]


def px_x(px):
    return (px - 50) / 640


def px_y(py):
    return (600 - py) / 600


def label(px, py, text, size=10, xanchor="left"):
    # free text placed in page pixels
    return dict(x=px_x(px), y=px_y(py), xref="paper", yref="paper", text=text,
                showarrow=False, xanchor=xanchor, yanchor="middle",
                font=dict(family=MONO, size=size))


fig = go.Figure()

for t2m, rr, col in zip(pert_t2m, pert_rr, pert_colors):
    fig.add_trace(go.Scatter(x=days, y=t2m, mode="lines+markers",
                             line=dict(color=col, width=1), marker=dict(size=3, color=col)))
    fig.add_trace(go.Scatter(x=days[1:], y=rr, yaxis="y2", mode="lines+markers",
                             line=dict(color=col, width=1), marker=dict(size=3, color=col)))

for t2m, rr, col, w in [(ctrl_t2m, ctrl_rr, "#0000ff", 3.5), (gfs_t2m, gfs_rr, "#000000", 3.5),
                        (mean_t2m, mean_rr, "#ff0000", 5)]:
    fig.add_trace(go.Scatter(x=days, y=t2m, mode="lines", line=dict(color=col, width=w)))
    fig.add_trace(go.Scatter(x=days[1:], y=rr, yaxis="y2", mode="lines", line=dict(color=col, width=w)))

# snow band: flakes row
snow_days = [h / 24 for h in snow_hours_a + snow_hours_b]
fig.add_trace(go.Scatter(x=snow_days, y=[-41.4] * len(snow_days), mode="markers",
                         marker=dict(symbol="circle", size=10, color="#7cc8f0",
                                     line=dict(color="#a8e0ff", width=1))))
fig.add_trace(go.Scatter(x=snow_days, y=[-41.4] * len(snow_days), mode="markers",
                         marker=dict(symbol="asterisk-open", size=6, color="#2a88d8",
                                     line=dict(color="#2a88d8", width=1))))

annotations = []
for h, p in zip(snow_hours_a + snow_hours_b, snow_pct_a + snow_pct_b):
    annotations.append(dict(x=h / 24, y=-40.7, xref="x", yref="y", text=f"<b>{p}%</b>",
                            textangle=-90, showarrow=False, yanchor="bottom",
                            bgcolor="#ccffff", borderpad=0,
                            font=dict(family=MONO, size=8, color="#0000ff")))

# date labels, one per day gridline (paper coords so the last one is not clipped)
for i, lab in enumerate(day_labels):
    annotations.append(dict(x=px_x(50 + 40 * i + 7), y=px_y(601), xref="paper", yref="paper",
                            text=lab, textangle=-90, showarrow=False,
                            xanchor="center", yanchor="top",
                            borderpad=0, font=dict(family=MONO, size=10)))

annotations += [
    dict(x=px_x(60), y=6.9, xref="paper", yref="y", text="Températures 2m", showarrow=False,
         xanchor="left", yanchor="middle", font=dict(family=MONO, size=10)),
    dict(x=px_x(59), y=-28.7, xref="paper", yref="y", text="Précipitations", showarrow=False,
         xanchor="left", yanchor="middle", font=dict(family=MONO, size=10)),
    label(33, 607, "(°C)", xanchor="center"),
    label(720, 607, "(mm)", xanchor="center"),
    label(74, 652, "Moyenne des scénarios"),
    label(263, 638, "Run de contrôle"),
    label(263, 648, "Run GFS"),
    label(467, 652, "20 Perturbations", xanchor="right"),
    label(30, 677, "<b>Diagramme des ensembles GEFS sur 384h : 53.2N 6.4E</b>", size=11.5),
    label(30, 692, "Température 2m (°C) , précipitations (mm)"),
    label(449, 672, "Ensemble GEFS du 19/12/2012 - 00h"),
    label(449, 692, "<b>Copyright 2012 Meteociel.fr</b>"),
]

shapes = [
    # double black line at 0°C
    dict(type="line", xref="paper", yref="y", x0=0, x1=1, y0=0.22, y1=0.22,
         line=dict(color="black", width=1.2), layer="between"),
    dict(type="line", xref="paper", yref="y", x0=0, x1=1, y0=-0.22, y1=-0.22,
         line=dict(color="black", width=1.2), layer="between"),
    # plot side borders
    dict(type="line", xref="paper", yref="paper", x0=0, x1=0, y0=0, y1=1,
         line=dict(color="#c0c0c0", width=1), layer="below"),
    dict(type="line", xref="paper", yref="paper", x0=1, x1=1, y0=0, y1=1,
         line=dict(color="#c0c0c0", width=1), layer="below"),
    # legend lines
    dict(type="line", xref="paper", yref="paper", x0=px_x(22), x1=px_x(62),
         y0=px_y(652), y1=px_y(652), line=dict(color="#ff0000", width=5)),
    dict(type="line", xref="paper", yref="paper", x0=px_x(225), x1=px_x(258),
         y0=px_y(637), y1=px_y(637), line=dict(color="#0000ff", width=4)),
    dict(type="line", xref="paper", yref="paper", x0=px_x(225), x1=px_x(258),
         y0=px_y(647), y1=px_y(647), line=dict(color="#000000", width=4)),
    # title box
    dict(type="rect", xref="paper", yref="paper", x0=px_x(20), x1=px_x(440),
         y0=px_y(697), y1=px_y(668), line=dict(color="black", width=1)),
]

for k, col in enumerate(pert_colors):
    x0 = 470 + 11 * k
    shapes.append(dict(type="rect", xref="paper", yref="paper", x0=px_x(x0), x1=px_x(x0 + 10),
                       y0=px_y(657), y1=px_y(649), fillcolor=col, line=dict(width=0)))
    annotations.append(dict(x=px_x(x0 + 5), y=px_y(642), xref="paper", yref="paper",
                            text=f"{k + 1:02d}", showarrow=False,
                            xanchor="center", yanchor="middle",
                            font=dict(family="DejaVu Sans Condensed", size=7.5)))

fig.update_layout(
    width=740, height=700,
    margin=dict(l=50, r=50, t=0, b=100),
    paper_bgcolor="white", plot_bgcolor="white",
    showlegend=False,
    font=dict(family=MONO, size=11, color="black"),
    xaxis=dict(range=[0, 16], tickvals=list(range(17)), showticklabels=False,
               showgrid=True, gridcolor="#c0c0c0", gridwidth=1, zeroline=False, ticks=""),
    yaxis=dict(range=[-42.86, 42.86], tickvals=list(range(-35, 41, 5)), showgrid=True,
               gridcolor="#c0c0c0", gridwidth=1, zeroline=False, ticks="",
               ticklabelstandoff=10, tickfont=dict(family=MONO, size=11)),
    yaxis2=dict(overlaying="y", side="right", range=[-7.86, 77.86],
                tickvals=list(range(0, 76, 5)), showgrid=False, zeroline=False, ticks="",
                ticklabelstandoff=20, tickfont=dict(family=MONO, size=11)),
    annotations=annotations,
    shapes=shapes,
    hovermode=False,
)

fig.write_html("out.html", config={"displayModeBar": False},
               post_script="document.body.style.margin='0';")
